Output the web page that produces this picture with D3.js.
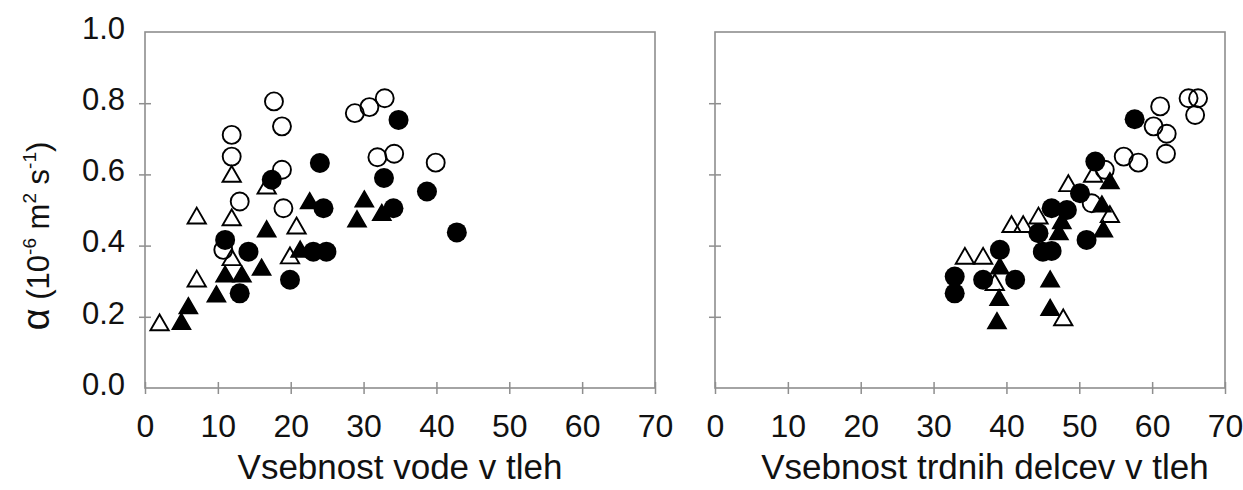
<!DOCTYPE html>
<html>
<head>
<meta charset="utf-8">
<script src="https://cdn.jsdelivr.net/npm/d3@7"></script>
<style>
  html, body { margin: 0; padding: 0; background: #fff; }
  svg { display: block; }
  text { font-family: "Liberation Sans", Arial, sans-serif; fill: #111; }
</style>
</head>
<body>
<svg id="chart" width="1243" height="490"></svg>
<script>
// ---------- data ----------
const xTickValues = [0, 10, 20, 30, 40, 50, 60, 70];
const yTickValues = [0.0, 0.2, 0.4, 0.6, 0.8, 1.0];

const xTitleLeft = "Vsebnost vode v tleh";
const xTitleRight = "Vsebnost trdnih delcev v tleh";

// Left panel: water content
const leftOpenCircles = [
  [11.9, 0.711], [11.9, 0.650], [13.0, 0.524], [10.75, 0.388], [17.7, 0.805],
  [18.8, 0.735], [18.8, 0.613], [19.0, 0.505], [28.8, 0.772], [30.8, 0.789],
  [32.9, 0.814], [31.9, 0.648], [34.2, 0.658], [39.9, 0.633]
];
const leftFilledCircles = [
  [11.0, 0.416], [14.2, 0.383], [13.0, 0.266], [17.4, 0.585], [19.9, 0.304],
  [24.0, 0.632], [24.5, 0.505], [23.1, 0.383], [24.9, 0.383], [34.8, 0.753],
  [32.8, 0.590], [38.7, 0.552], [34.1, 0.505], [42.8, 0.437]
];
const leftOpenTriangles = [
  [2.0, 0.177], [7.1, 0.300], [7.1, 0.477], [11.9, 0.594], [11.9, 0.472],
  [11.9, 0.360], [16.7, 0.561], [20.8, 0.449], [19.9, 0.365]
];
const leftFilledTriangles = [
  [5.0, 0.180], [5.95, 0.224], [9.8, 0.257], [11.0, 0.313], [13.3, 0.313],
  [16.0, 0.332], [16.7, 0.440], [22.6, 0.519], [21.3, 0.383], [30.1, 0.524],
  [32.5, 0.486], [29.1, 0.468]
];

// Right panel: solid particle content
const rightOpenCircles = [
  [65.0, 0.814], [66.3, 0.814], [65.9, 0.767], [61.1, 0.791], [60.2, 0.735],
  [62.0, 0.714], [61.9, 0.658], [56.1, 0.650], [58.1, 0.633], [53.5, 0.613],
  [51.7, 0.519]
];
const rightFilledCircles = [
  [57.6, 0.755], [52.2, 0.636], [50.1, 0.547], [51.0, 0.416], [46.2, 0.505],
  [48.3, 0.500], [44.4, 0.435], [45.0, 0.383], [46.2, 0.385], [39.1, 0.388],
  [41.2, 0.304], [36.8, 0.304], [32.9, 0.313], [32.9, 0.266]
];
const rightOpenTriangles = [
  [34.3, 0.364], [36.8, 0.364], [38.4, 0.290], [47.8, 0.191], [40.7, 0.453],
  [42.3, 0.453], [44.4, 0.477], [48.5, 0.568], [51.9, 0.594], [54.2, 0.481]
];
const rightFilledTriangles = [
  [54.2, 0.575], [53.1, 0.510], [53.3, 0.440], [47.6, 0.463], [47.2, 0.432],
  [39.1, 0.336], [39.0, 0.247], [38.7, 0.182], [46.0, 0.299], [46.0, 0.219]
];

// ---------- layout ----------
const svg = d3.select("#chart");
const plotTop = 32, plotBottom = 388;
const panels = [
  { x0: 145, x1: 655, title: xTitleLeft, titleX: 400, yLabels: true,
    oc: leftOpenCircles, fc: leftFilledCircles, ot: leftOpenTriangles, ft: leftFilledTriangles },
  { x0: 715, x1: 1225, title: xTitleRight, titleX: 985, yLabels: false,
    oc: rightOpenCircles, fc: rightFilledCircles, ot: rightOpenTriangles, ft: rightFilledTriangles }
];

const y = d3.scaleLinear().domain([0, 1]).range([plotBottom, plotTop]);
const gray = "#8e8e8e";
const triPath = d3.symbol().type(d3.symbolTriangle).size(145)();

panels.forEach(p => {
  const x = d3.scaleLinear().domain([0, 70]).range([p.x0, p.x1]);
  const g = svg.append("g");

  // frame
  g.append("rect")
    .attr("x", p.x0).attr("y", plotTop)
    .attr("width", p.x1 - p.x0).attr("height", plotBottom - plotTop)
    .attr("fill", "none").attr("stroke", gray).attr("stroke-width", 1.6);

  // x axis ticks (crossing) + labels
  const xAxis = d3.axisBottom(x).tickValues(xTickValues).tickSize(6).tickSizeOuter(0).tickFormat(d3.format("d"));
  const gx = g.append("g").attr("transform", `translate(0,${plotBottom})`).call(xAxis);
  gx.select(".domain").remove();
  gx.selectAll(".tick line").attr("stroke", gray).attr("stroke-width", 1.5).attr("y1", -6).attr("y2", 6);
  gx.selectAll(".tick text")
    .attr("y", 49).attr("dy", 0)
    .style("font-family", '"Liberation Sans", Arial, sans-serif')
    .style("font-size", "32px").attr("fill", "#111");

  // y axis ticks + labels
  const yAxis = d3.axisLeft(y).tickValues(yTickValues).tickSize(6).tickSizeOuter(0).tickFormat(d3.format(".1f"));
  const gy = g.append("g").attr("transform", `translate(${p.x0},0)`).call(yAxis);
  gy.select(".domain").remove();
  gy.selectAll(".tick line").attr("stroke", gray).attr("stroke-width", 1.5).attr("x1", -6).attr("x2", 6);
  gy.selectAll(".tick").filter(d => d === 0 || d === 1).select("line").remove();
  if (p.yLabels) {
    gy.selectAll(".tick text")
      .attr("x", -20).attr("dy", "0.2em")
      .style("font-family", '"Liberation Sans", Arial, sans-serif')
      .style("font-size", "31px").attr("fill", "#111");
  } else {
    gy.selectAll(".tick text").remove();
  }

  // markers
  const mk = g.append("g");
  mk.selectAll(".oc").data(p.oc).join("circle")
    .attr("cx", d => x(d[0])).attr("cy", d => y(d[1])).attr("r", 9)
    .attr("fill", "none").attr("stroke", "#000").attr("stroke-width", 1.9);
  mk.selectAll(".ot").data(p.ot).join("path")
    .attr("d", triPath)
    .attr("transform", d => `translate(${x(d[0])},${y(d[1])})`)
    .attr("fill", "none").attr("stroke", "#000").attr("stroke-width", 1.9);
  mk.selectAll(".ft").data(p.ft).join("path")
    .attr("d", triPath)
    .attr("transform", d => `translate(${x(d[0])},${y(d[1])})`)
    .attr("fill", "#000").attr("stroke", "#000").attr("stroke-width", 1.5);
  mk.selectAll(".fc").data(p.fc).join("circle")
    .attr("cx", d => x(d[0])).attr("cy", d => y(d[1])).attr("r", 10)
    .attr("fill", "#000");

  // x title
  g.append("text")
    .attr("x", p.titleX).attr("y", 479)
    .attr("text-anchor", "middle")
    .style("font-size", "35px")
    .text(p.title);
});

// y axis label
const yl = svg.append("text")
  .attr("transform", "translate(49,236) rotate(-90)")
  .attr("text-anchor", "middle")
  .style("font-size", "31px");
yl.append("tspan").style("font-size", "38px").text("α");
yl.append("tspan").text(" (10");
yl.append("tspan").style("font-size", "19px").attr("dy", -13).text("-6");
yl.append("tspan").attr("dy", 13).text(" m");
yl.append("tspan").style("font-size", "19px").attr("dy", -13).text("2");
yl.append("tspan").attr("dy", 13).text(" s");
yl.append("tspan").style("font-size", "19px").attr("dy", -13).text("-1");
yl.append("tspan").attr("dy", 13).text(")");
</script>
</body>
</html>
